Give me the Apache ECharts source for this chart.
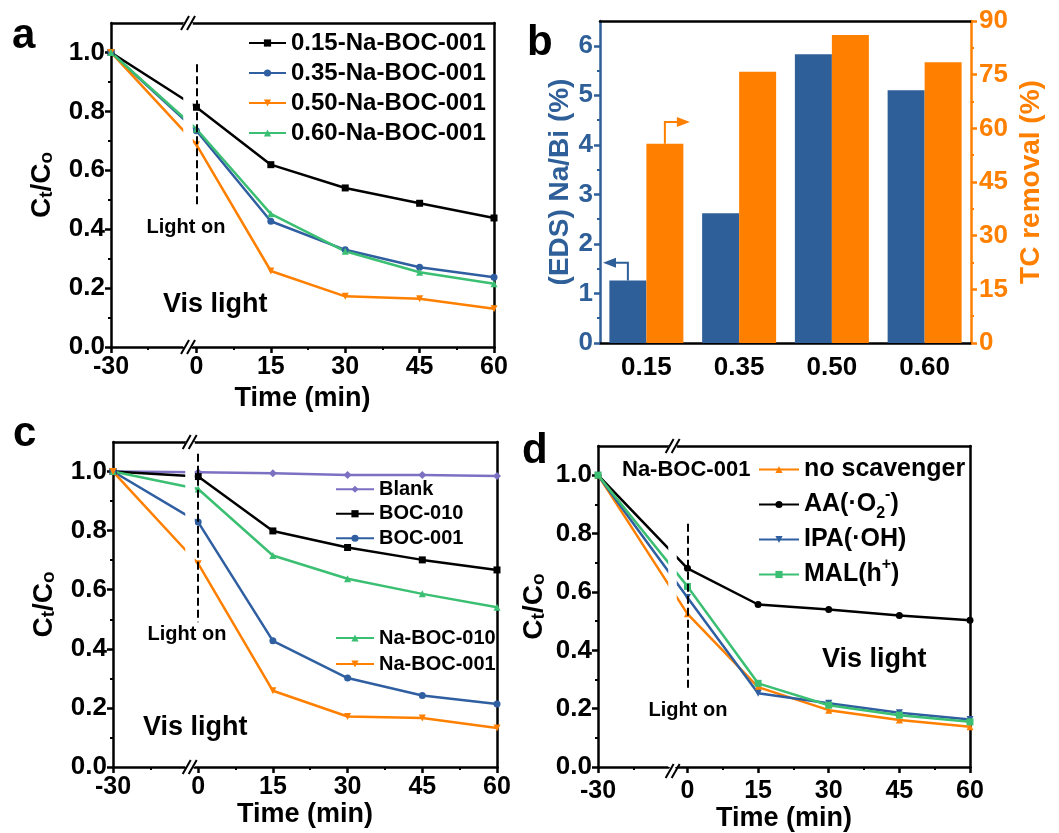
<!DOCTYPE html>
<html><head><meta charset="utf-8">
<script src="https://cdn.jsdelivr.net/npm/echarts@6/dist/echarts.min.js"></script>
<style>html,body{margin:0;padding:0;background:#fff}#main{width:1059px;height:833px}</style>
</head><body><div id="main"></div>
<script>
// ---------------- DATA ----------------
const timeMin = [-30, 0, 15, 30, 45, 60];
const xTickLabels = [-30, 0, 15, 30, 45, 60];
const xMinorTicks = [-22.5, 7.5, 22.5, 37.5, 52.5];
const yTickLabels = [0, 0.2, 0.4, 0.6, 0.8, 1.0];
const yMinorTicks = [0.1, 0.3, 0.5, 0.7, 0.9];

// panel a
const aNames = ['0.15-Na-BOC-001', '0.35-Na-BOC-001', '0.50-Na-BOC-001', '0.60-Na-BOC-001'];
const a015 = [1.0, 0.814, 0.619, 0.540, 0.488, 0.438];
const a035 = [1.0, 0.734, 0.427, 0.330, 0.271, 0.237];
const a050 = [1.0, 0.687, 0.258, 0.172, 0.164, 0.130];
const a060 = [1.0, 0.740, 0.452, 0.325, 0.254, 0.215];

// panel b
const bCategories = ['0.15', '0.35', '0.50', '0.60'];
const bNaBi = [1.26, 2.62, 5.83, 5.10];
const bTCRemoval = [55.7, 75.8, 86.1, 78.5];
const bLeftTicks = [0, 1, 2, 3, 4, 5, 6];
const bLeftMinor = [0.5, 1.5, 2.5, 3.5, 4.5, 5.5];
const bRightTicks = [0, 15, 30, 45, 60, 75, 90];
const bRightMinor = [7.5, 22.5, 37.5, 52.5, 67.5, 82.5];

// panel c
const cNames = ['Blank', 'BOC-010', 'BOC-001', 'Na-BOC-010', 'Na-BOC-001'];
const cBlank = [1.0, 0.998, 0.994, 0.988, 0.988, 0.985];
const cBOC010 = [1.0, 0.983, 0.799, 0.743, 0.701, 0.667];
const cBOC001 = [1.0, 0.829, 0.427, 0.301, 0.242, 0.213];
const cNaBOC010 = [1.0, 0.941, 0.716, 0.637, 0.586, 0.541];
const cNaBOC001 = [1.0, 0.688, 0.258, 0.171, 0.166, 0.132];

// panel d
const dNames = ['no scavenger', 'AA(·O2-)', 'IPA(·OH)', 'MAL(h+)'];
const dLegendRich = ['no scavenger', 'AA(·O{sub|2}{sup|-})', 'IPA(·OH)', 'MAL(h{sup|+})'];
const dNoScav = [1.0, 0.525, 0.274, 0.195, 0.161, 0.138];
const dAA = [1.0, 0.681, 0.557, 0.540, 0.519, 0.503];
const dIPA = [1.0, 0.581, 0.253, 0.219, 0.186, 0.163];
const dMAL = [1.0, 0.619, 0.287, 0.212, 0.178, 0.155];

// ---------------- STYLE / LAYOUT ----------------
const FONT = 'Liberation Sans, Arial, Helvetica, sans-serif';
const BLACK = '#000000', BLUE = '#2F5FA0', ORANGE = '#FF8000', GREEN = '#3BBF72', PURPLE = '#7B70C2';
const BAR_BLUE = '#2F5F98', BAR_ORANGE = '#FF8000';

const grids = [
  {left: 111, top: 23, width: 383, height: 324},
  {left: 600, top: 21, width: 371, height: 322},
  {left: 113, top: 442, width: 384, height: 325},
  {left: 598, top: 446, width: 372, height: 325}
];
// break gaps are in axis units
const breakA = {start: -15.37, end: -0.8, gap: 1.8};
const breakC = {start: -15.5, end: -0.8, gap: 1.8};
const breakD = {start: -15.0, end: -2.3, gap: 1.7};

const xAxes = [], yAxes = [];
const axLine = c => ({show: true, onZero: false, lineStyle: {color: c, width: 2.5}});
const noLine = {show: false, onZero: false};
const breakArea = {show: true, expandOnClick: false, zigzagAmplitude: 0, zigzagZ: 100,
  itemStyle: {color: '#fff', borderColor: '#fff', borderWidth: 0, opacity: 1}};
const ctco = {fontSize: 28, fontWeight: 'bold', color: '#000', fontFamily: FONT, lineHeight: 28,
  rich: {sub: {fontSize: 19, fontWeight: 'bold', color: '#000', fontFamily: FONT, lineHeight: 19, verticalAlign: 'bottom', padding: [14, 0, 0, 0]}}};

function addLineAxes(g, brk, p) {
  const base = {gridIndex: g, type: 'value', min: -30, max: 60, breaks: [brk], splitLine: {show: false}};
  const xi = xAxes.length;
  xAxes.push(Object.assign({}, base, {
    position: 'bottom', breakArea: breakArea, axisLine: axLine(BLACK),
    axisTick: {show: true, length: 6, customValues: xTickLabels, lineStyle: {color: BLACK, width: 2.5}},
    axisLabel: {show: true, customValues: xTickLabels, color: BLACK, fontSize: 25, fontWeight: 'bold', fontFamily: FONT, margin: p.xMargin},
    name: 'Time (min)', nameLocation: 'middle', nameGap: p.xNameGap,
    nameTextStyle: {color: BLACK, fontSize: 27, fontWeight: 'bold', fontFamily: FONT}
  }));
  xAxes.push(Object.assign({}, base, {
    position: 'bottom', breakArea: {show: false}, axisLine: noLine,
    axisTick: {show: true, length: 3, customValues: xMinorTicks, lineStyle: {color: BLACK, width: 2}},
    axisLabel: {show: false}
  }));
  xAxes.push(Object.assign({}, base, {
    position: 'top', breakArea: breakArea, axisLine: axLine(BLACK), axisTick: {show: false}, axisLabel: {show: false}
  }));
  const yi = yAxes.length;
  const ybase = {gridIndex: g, type: 'value', min: 0, max: 1.1, splitLine: {show: false}};
  yAxes.push(Object.assign({}, ybase, {
    position: 'left', axisLine: axLine(BLACK),
    axisTick: {show: true, length: 6, customValues: yTickLabels, lineStyle: {color: BLACK, width: 2.5}},
    axisLabel: {show: true, customValues: yTickLabels, formatter: v => Number(v).toFixed(1), color: BLACK, fontSize: 26, fontWeight: 'bold', fontFamily: FONT, margin: 6},
    name: 'C{sub|t}/C{sub|o}', nameLocation: 'middle', nameRotate: 90, nameGap: p.yNameGap, nameTextStyle: ctco
  }));
  yAxes.push(Object.assign({}, ybase, {
    position: 'left', axisLine: noLine,
    axisTick: {show: true, length: 3, customValues: yMinorTicks, lineStyle: {color: BLACK, width: 2}},
    axisLabel: {show: false}
  }));
  yAxes.push(Object.assign({}, ybase, {
    position: 'right', axisLine: axLine(BLACK), axisTick: {show: false}, axisLabel: {show: false}
  }));
  return {x: xi, y: yi};
}

const axA = addLineAxes(0, breakA, {xMargin: 8, xNameGap: 38, yNameGap: 55});
const axC = addLineAxes(2, breakC, {xMargin: 8, xNameGap: 32, yNameGap: 55});
const axD = addLineAxes(3, breakD, {xMargin: 12, xNameGap: 35, yNameGap: 50});

// panel b axes
const bX = xAxes.length;
xAxes.push({gridIndex: 1, type: 'category', data: bCategories, position: 'bottom',
  axisLine: axLine(BLACK), axisTick: {show: false},
  axisLabel: {color: BLACK, fontSize: 26, fontWeight: 'bold', fontFamily: FONT, margin: 12}});
xAxes.push({gridIndex: 1, type: 'category', data: bCategories, position: 'top',
  axisLine: axLine(BLACK), axisTick: {show: false}, axisLabel: {show: false}});
const bYL = yAxes.length;
yAxes.push({gridIndex: 1, type: 'value', min: 0, max: 6.5, position: 'left', splitLine: {show: false},
  axisLine: axLine(BAR_BLUE),
  axisTick: {show: true, length: 6, customValues: bLeftTicks, lineStyle: {color: BAR_BLUE, width: 2.5}},
  axisLabel: {customValues: bLeftTicks, color: BAR_BLUE, fontSize: 26, fontWeight: 'bold', fontFamily: FONT, margin: 7},
  name: '(EDS) Na/Bi (%)', nameLocation: 'middle', nameRotate: 90, nameGap: 26,
  nameTextStyle: {color: BAR_BLUE, fontSize: 28, fontWeight: 'bold', fontFamily: FONT}});
yAxes.push({gridIndex: 1, type: 'value', min: 0, max: 6.5, position: 'left', splitLine: {show: false},
  axisLine: noLine, axisLabel: {show: false},
  axisTick: {show: true, length: 3, customValues: bLeftMinor, lineStyle: {color: BAR_BLUE, width: 2}}});
const bYR = yAxes.length;
yAxes.push({gridIndex: 1, type: 'value', min: 0, max: 90, position: 'right', splitLine: {show: false},
  axisLine: axLine(BAR_ORANGE),
  axisTick: {show: true, length: 6, customValues: bRightTicks, lineStyle: {color: BAR_ORANGE, width: 2.5}},
  axisLabel: {customValues: bRightTicks, color: BAR_ORANGE, fontSize: 26, fontWeight: 'bold', fontFamily: FONT, margin: 8},
  name: 'TC removal (%)', nameLocation: 'middle', nameRotate: 90, nameGap: 46,
  nameTextStyle: {color: BAR_ORANGE, fontSize: 28, fontWeight: 'bold', fontFamily: FONT}});
yAxes.push({gridIndex: 1, type: 'value', min: 0, max: 90, position: 'right', splitLine: {show: false},
  axisLine: noLine, axisLabel: {show: false},
  axisTick: {show: true, length: 3, customValues: bRightMinor, lineStyle: {color: BAR_ORANGE, width: 2}}});

// ---------------- SERIES ----------------
const pts = arr => timeMin.map((t, i) => [t, arr[i]]);
function lineSeries(name, arr, ax, color, symbol, rotate, extra) {
  return Object.assign({
    type: 'line', name: name, xAxisIndex: ax.x, yAxisIndex: ax.y, data: pts(arr),
    symbol: symbol, symbolRotate: rotate || 0, symbolSize: 7, showSymbol: true,
    lineStyle: {color: color, width: 2.5}, itemStyle: {color: color}, z: 2
  }, extra || {});
}
function lightOn(top, bottom) {
  return {silent: true, symbol: ['none', 'none'], animation: false,
    lineStyle: {color: BLACK, width: 2, type: [8, 4]},
    label: {show: false},
    data: [[{coord: [0, top]}, {coord: [0, bottom]}]]};
}

const series = [
  lineSeries(aNames[0], a015, axA, BLACK, 'rect', 0, {markLine: lightOn(0.96, 0.48)}),
  lineSeries(aNames[1], a035, axA, BLUE, 'circle'),
  lineSeries(aNames[2], a050, axA, ORANGE, 'triangle', 180),
  lineSeries(aNames[3], a060, axA, GREEN, 'triangle'),

  {type: 'bar', name: 'EDS Na/Bi', xAxisIndex: bX, yAxisIndex: bYL, data: bNaBi, barWidth: 37, barGap: '0%', itemStyle: {color: BAR_BLUE}},
  {type: 'bar', name: 'TC removal', xAxisIndex: bX, yAxisIndex: bYR, data: bTCRemoval, barWidth: 37, barGap: '0%', itemStyle: {color: BAR_ORANGE}},

  lineSeries(cNames[0], cBlank, axC, PURPLE, 'diamond', 0, {symbolSize: 8, markLine: lightOn(1.06, 0.49)}),
  lineSeries(cNames[1], cBOC010, axC, BLACK, 'rect'),
  lineSeries(cNames[2], cBOC001, axC, BLUE, 'circle'),
  lineSeries(cNames[3], cNaBOC010, axC, GREEN, 'triangle'),
  lineSeries(cNames[4], cNaBOC001, axC, ORANGE, 'triangle', 180),

  lineSeries(dNames[0], dNoScav, axD, ORANGE, 'triangle', 0, {markLine: lightOn(0.834, 0.268)}),
  lineSeries(dNames[1], dAA, axD, BLACK, 'circle'),
  lineSeries(dNames[2], dIPA, axD, BLUE, 'triangle', 180),
  lineSeries(dNames[3], dMAL, axD, GREEN, 'rect')
];

const legTxt = (fs, lh) => ({fontSize: fs, fontWeight: 'bold', color: BLACK, fontFamily: FONT, lineHeight: lh});
const legendBase = {orient: 'vertical', itemGap: 0, itemHeight: 9, selectedMode: false, padding: 0};
const dRichMap = {};
dNames.forEach((n, i) => { dRichMap[n] = dLegendRich[i]; });

const option = {
  animation: false,
  backgroundColor: '#fff',
  grid: grids,
  xAxis: xAxes,
  yAxis: yAxes,
  legend: [
    Object.assign({}, legendBase, {left: 248, top: 28, itemWidth: 37, data: aNames, textStyle: legTxt(24, 30)}),
    Object.assign({}, legendBase, {left: 335, top: 477, itemWidth: 38, data: cNames.slice(0, 3), textStyle: legTxt(20, 24.5)}),
    Object.assign({}, legendBase, {left: 335, top: 625, itemWidth: 38, data: cNames.slice(3), textStyle: legTxt(20, 26)}),
    Object.assign({}, legendBase, {left: 758, top: 452, itemWidth: 40, data: dNames,
      formatter: n => dRichMap[n],
      textStyle: Object.assign(legTxt(25, 35), {rich: {
        sub: {fontSize: 16, fontWeight: 'bold', color: BLACK, fontFamily: FONT, lineHeight: 16, verticalAlign: 'bottom', padding: [12, 0, 0, 0]},
        sup: {fontSize: 16, fontWeight: 'bold', color: BLACK, fontFamily: FONT, lineHeight: 16, verticalAlign: 'top', padding: [0, 0, 12, 0]}
      }})})
  ],
  series: series
};

const chart = echarts.init(document.getElementById('main'), null, {renderer: 'canvas'});
chart.setOption(option);

// ---------------- ANNOTATIONS ----------------
const gfx = [];
const txt = (t, x, y, fs, align, weight) => ({type: 'text', x: x, y: y, z: 300,
  style: {text: t, fill: BLACK, font: (weight || 'bold') + ' ' + fs + 'px ' + FONT, verticalAlign: 'middle', align: align || 'left'}});
gfx.push(txt('a', 12, 36, 42), txt('b', 527, 43, 42), txt('c', 13, 434, 42), txt('d', 522, 451, 42));
gfx.push(txt('Vis light', 163, 305, 27), txt('Vis light', 143, 728, 27), txt('Vis light', 822, 660, 27));
gfx.push(txt('Na-BOC-001', 622, 470, 22));
gfx.push(txt('Light on', 186, 227, 20, 'center'), txt('Light on', 187, 634, 20, 'center'), txt('Light on', 688, 710, 20, 'center'));

function breakMarks(xi, brk, grid) {
  const p1 = chart.convertToPixel({xAxisIndex: xi}, brk.start);
  const p2 = chart.convertToPixel({xAxisIndex: xi}, brk.end);
  const cx = (p1 + p2) / 2;
  [grid.top, grid.top + grid.height].forEach(y => {
    [-3, 3].forEach(off => gfx.push({type: 'line', z: 300,
      shape: {x1: cx + off - 4, y1: y + 7, x2: cx + off + 4, y2: y - 7},
      style: {stroke: BLACK, lineWidth: 2}}));
  });
}
breakMarks(axA.x, breakA, grids[0]);
breakMarks(axC.x, breakC, grids[2]);
breakMarks(axD.x, breakD, grids[3]);

// panel b arrows (annotation)
(function () {
  const cx = chart.convertToPixel({xAxisIndex: bX}, bCategories[0]);
  const bx = cx - 18.5, ox = cx + 18.5;
  const yb0 = chart.convertToPixel({yAxisIndex: bYL}, bNaBi[0]);
  const yb1 = chart.convertToPixel({yAxisIndex: bYL}, 1.62);
  const tipL = grids[1].left + 3;
  gfx.push({type: 'polyline', z: 300, shape: {points: [[bx, yb0], [bx, yb1], [tipL + 10, yb1]]}, style: {stroke: BAR_BLUE, lineWidth: 2, fill: null}});
  gfx.push({type: 'polygon', z: 300, shape: {points: [[tipL, yb1], [tipL + 13, yb1 - 5], [tipL + 13, yb1 + 5]]}, style: {fill: BAR_BLUE}});
  const yo0 = chart.convertToPixel({yAxisIndex: bYR}, bTCRemoval[0]);
  const yo1 = chart.convertToPixel({yAxisIndex: bYR}, 61.8);
  const tipR = ox + 25;
  gfx.push({type: 'polyline', z: 300, shape: {points: [[ox, yo0], [ox, yo1], [tipR - 10, yo1]]}, style: {stroke: BAR_ORANGE, lineWidth: 2, fill: null}});
  gfx.push({type: 'polygon', z: 300, shape: {points: [[tipR, yo1], [tipR - 13, yo1 - 5], [tipR - 13, yo1 + 5]]}, style: {fill: BAR_ORANGE}});
})();

chart.setOption({graphic: gfx});
</script>
</body></html>
